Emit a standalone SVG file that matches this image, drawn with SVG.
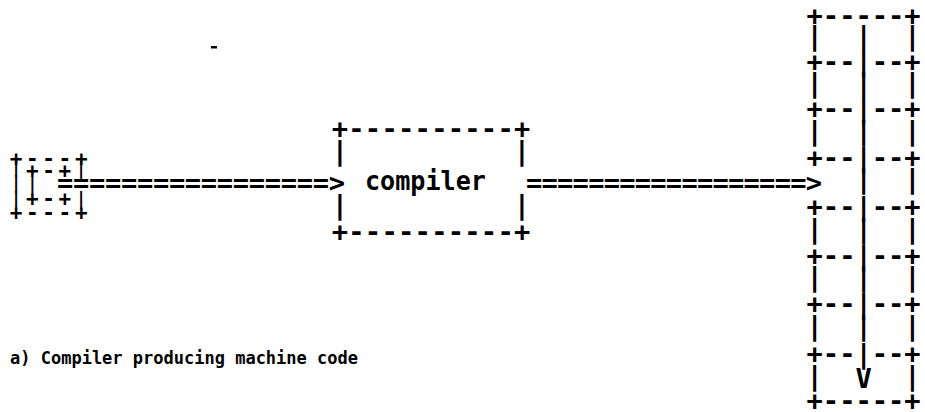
<svg xmlns="http://www.w3.org/2000/svg" width="925" height="412" viewBox="0 0 925 412">
  <style>
    /* typewriter grid: 16.3px per column, cell k starts at 7.85 + 16.3k */
    .tt { font-family: "DejaVu Sans Mono", "Liberation Mono", monospace; font-size: 27.07px; font-weight: bold; fill: #000; }
    .sm { font-family: "DejaVu Sans Mono", "Liberation Mono", monospace; font-size: 21px; font-weight: bold; letter-spacing: 3.66px; fill: #000; }
    .bar { font-family: "DejaVu Sans Mono", "Liberation Mono", monospace; font-size: 17px; font-weight: bold; fill: #000; }
    .cap { font-family: "DejaVu Sans Mono", "Liberation Mono", monospace; font-size: 17.5px; font-weight: bold; fill: #000; }
  </style>
  <rect width="925" height="412" fill="#fff"/>

  <!-- stray mark -->
  <rect x="211" y="46" width="6" height="2.5" fill="#000"/>

  <!-- source program: nested box, columns 0-4, half-line spacing -->
  <g id="source">
    <text class="sm" x="9.7" y="165.5">+---+</text>
    <text class="sm" x="26" y="177.5">+-+</text>
    <text class="sm" x="26" y="205.5">+-+</text>
    <text class="sm" x="9.7" y="219.5">+---+</text>
    <text class="bar">
      <tspan x="10.9" y="173">|</tspan><tspan x="10.9" y="189">|</tspan><tspan x="10.9" y="205">|</tspan>
      <tspan x="76.1" y="175">|</tspan><tspan x="76.1" y="205">|</tspan>
      <tspan x="27.2" y="191">|</tspan>
    </text>
  </g>

  <!-- compiler box, columns 20-31 -->
  <g id="compiler" class="tt">
    <text x="331.7" y="137.7" textLength="198.6" lengthAdjust="spacing">+----------+</text>
    <text y="160"><tspan x="331.7">|</tspan><tspan x="513.7">|</tspan></text>
    <text x="365" y="190" textLength="121" lengthAdjust="spacingAndGlyphs">compiler</text>
    <text y="214"><tspan x="331.7">|</tspan><tspan x="513.7">|</tspan></text>
    <text x="331.7" y="240.7" textLength="198.6" lengthAdjust="spacing">+----------+</text>
  </g>

  <!-- machine code: column of cells, columns 49-55 -->
  <g id="machine-code" class="tt">
    <text x="806.55" y="24.7">+-----+</text>
    <text y="45"><tspan x="806.55">|</tspan><tspan x="855.45">|</tspan><tspan x="904.35">|</tspan></text>
    <text x="806.55" y="70.7">+--|--+</text>
    <text y="92"><tspan x="806.55">|</tspan><tspan x="855.45">|</tspan><tspan x="904.35">|</tspan></text>
    <text x="806.55" y="117.7">+--|--+</text>
    <text y="140"><tspan x="806.55">|</tspan><tspan x="855.45">|</tspan><tspan x="904.35">|</tspan></text>
    <text x="806.55" y="166.7">+--|--+</text>
    <text y="188"><tspan x="855.45">|</tspan><tspan x="904.35">|</tspan></text>
    <text x="806.55" y="215.7">+--|--+</text>
    <text y="238"><tspan x="806.55">|</tspan><tspan x="855.45">|</tspan><tspan x="904.35">|</tspan></text>
    <text x="806.55" y="264.7">+--|--+</text>
    <text y="286"><tspan x="806.55">|</tspan><tspan x="855.45">|</tspan><tspan x="904.35">|</tspan></text>
    <text x="806.55" y="312.7">+--|--+</text>
    <text y="335"><tspan x="806.55">|</tspan><tspan x="855.45">|</tspan><tspan x="904.35">|</tspan></text>
    <text x="806.55" y="362.7">+--|--+</text>
    <text><tspan x="806.55" y="385">|</tspan><tspan x="855.45" y="388">V</tspan><tspan x="904.35" y="385">|</tspan></text>
    <text x="806.55" y="410">+-----+</text>
  </g>

  <!-- flows: source -> compiler -> machine code -->
  <g id="connectors" class="tt">
    <text x="57" y="192" textLength="288" lengthAdjust="spacing">=================&gt;</text>
    <text x="526" y="192" textLength="296" lengthAdjust="spacing">==================&gt;</text>
  </g>

  <g id="caption">
    <text class="cap" x="10" y="364" textLength="348" lengthAdjust="spacingAndGlyphs">a) Compiler producing machine code</text>
  </g>
</svg>
